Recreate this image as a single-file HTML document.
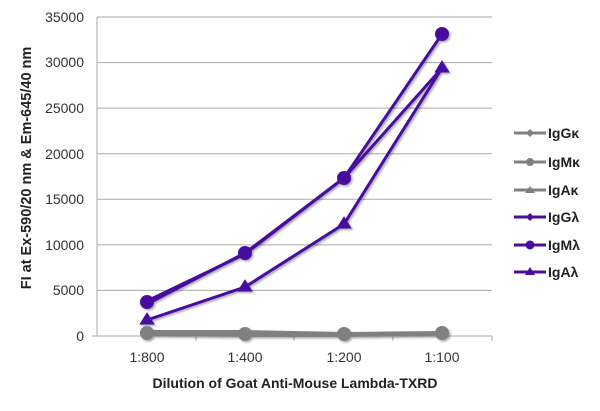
<!DOCTYPE html>
<html><head><style>body{margin:0;background:#fff}</style></head><body>
<svg width="600" height="406" xmlns="http://www.w3.org/2000/svg" font-family="Liberation Sans, sans-serif">
<defs><filter id="s" x="-10%" y="-10%" width="130%" height="130%"><feDropShadow dx="1.5" dy="1.5" stdDeviation="1" flood-color="#000" flood-opacity="0.35"/></filter></defs>
<g stroke="#aaa" stroke-width="1">
<line x1="97" y1="17" x2="492" y2="17"/><line x1="97" y1="62.6" x2="492" y2="62.6"/><line x1="97" y1="108.1" x2="492" y2="108.1"/><line x1="97" y1="153.7" x2="492" y2="153.7"/><line x1="97" y1="199.3" x2="492" y2="199.3"/><line x1="97" y1="244.9" x2="492" y2="244.9"/><line x1="97" y1="290.4" x2="492" y2="290.4"/>
<line x1="97" y1="17" x2="97" y2="336"/><line x1="92" y1="336" x2="492" y2="336"/>
<line x1="196" y1="336" x2="196" y2="341"/><line x1="294" y1="336" x2="294" y2="341"/><line x1="393" y1="336" x2="393" y2="341"/><line x1="492" y1="336" x2="492" y2="341"/>
</g>
<g font-size="14" fill="#333" text-anchor="end">
<text x="84" y="22">35000</text><text x="84" y="67">30000</text><text x="84" y="113">25000</text><text x="84" y="159">20000</text><text x="84" y="204">15000</text><text x="84" y="250">10000</text><text x="84" y="295">5000</text><text x="84" y="341">0</text>
</g>
<g font-size="14" fill="#333" text-anchor="middle">
<text x="147" y="362">1:800</text><text x="245" y="362">1:400</text><text x="344" y="362">1:200</text><text x="442" y="362">1:100</text>
</g>
<text x="295" y="388" font-size="14" font-weight="bold" fill="#222" text-anchor="middle">Dilution of Goat Anti-Mouse Lambda-TXRD</text>
<text transform="translate(31,168) rotate(-90)" font-size="14.5" font-weight="bold" fill="#222" text-anchor="middle">FI at Ex-590/20 nm &amp; Em-645/40 nm</text>
<g filter="url(#s)">
<g stroke="#808080" stroke-width="4" fill="#808080">
<polyline fill="none" points="147,332 245,332 344,334 442,333"/>
<polyline fill="none" points="147,334 245,335 344,335 442,334"/>
<circle cx="147" cy="333" r="5"/><circle cx="245" cy="334" r="5"/><circle cx="344" cy="334" r="5"/><circle cx="442" cy="333" r="5"/>
</g>
<g stroke="#4a0e9e" stroke-width="3" fill="#4a0e9e">
<polyline fill="none" points="147,320 245,287 344,224 442,68"/>
<polyline fill="none" points="147,304 245,253 344,178 442,68"/>
<polyline fill="none" points="147,301 245,254 344,178 442,34"/>
<circle cx="147" cy="302" r="5.5"/><circle cx="245" cy="253" r="5.5"/><circle cx="344" cy="178" r="5.5"/><circle cx="442" cy="34" r="5.5"/>
<path d="M147,315 l5,8 h-10z M245,282 l5,8 h-10z M344,219 l5,8 h-10z M442,63 l5,8 h-10z"/>
</g>
</g>
<g font-size="14" font-weight="bold" fill="#222">
<g stroke-width="3"><line x1="514" y1="133" x2="546" y2="133" stroke="#808080"/><line x1="514" y1="162" x2="546" y2="162" stroke="#808080"/><line x1="514" y1="190" x2="546" y2="190" stroke="#808080"/><line x1="514" y1="217" x2="546" y2="217" stroke="#4a0e9e"/><line x1="514" y1="245" x2="546" y2="245" stroke="#4a0e9e"/><line x1="514" y1="272" x2="546" y2="272" stroke="#4a0e9e"/></g>
<path d="M530,129 l4,4 -4,4 -4,-4z" fill="#808080"/><circle cx="530" cy="162" r="4" fill="#808080"/><path d="M530,186 l5,7 h-10z" fill="#808080"/>
<path d="M530,213 l4,4 -4,4 -4,-4z" fill="#4a0e9e"/><circle cx="530" cy="245" r="4.5" fill="#4a0e9e"/><path d="M530,267 l5,8 h-10z" fill="#4a0e9e"/>
<text x="548" y="138">IgGκ</text><text x="548" y="167">IgMκ</text><text x="548" y="195">IgAκ</text><text x="548" y="222">IgGλ</text><text x="548" y="250">IgMλ</text><text x="548" y="277">IgAλ</text>
</g>
</svg>
</body></html>
